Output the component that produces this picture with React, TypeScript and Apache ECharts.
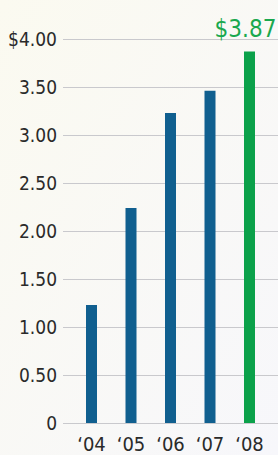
import React, { useEffect, useRef } from "react";
import * as echarts from "echarts";

const categories = ["‘04", "‘05", "‘06", "‘07", "‘08"];
const values = [1.23, 2.24, 3.23, 3.46, 3.87];
const highlightIndex = 4;
const yMin = 0;
const yMax = 4;
const yInterval = 0.5;

const FONT = "'Liberation Sans Narrow', 'DejaVu Sans Condensed', 'Roboto Condensed', sans-serif";

export default function App() {
  const ref = useRef<HTMLDivElement>(null);
  useEffect(() => {
    if (!ref.current) return;
    const chart = echarts.init(ref.current, null, { renderer: "svg" });
    const top = 39;
    const bottom = 32;
    chart.setOption({
      animation: false,
      backgroundColor: {
        type: "linear",
        x: 0,
        y: 0,
        x2: 1,
        y2: 1,
        colorStops: [
          { offset: 0, color: "#fbfaf0" },
          { offset: 1, color: "#f7f7fb" },
        ],
      },
      grid: [
        { left: 63, right: 0, top, bottom, containLabel: false },
        { left: 71.75, right: 8.75, top, bottom, containLabel: false },
      ],
      xAxis: [
        { type: "value", gridIndex: 0, show: false, min: 0, max: 1 },
        {
          type: "category",
          gridIndex: 1,
          data: categories,
          axisLine: { show: false },
          axisTick: { show: false },
          axisLabel: {
            color: "#2a2a2a",
            fontFamily: FONT,
            fontSize: 20,
            margin: 11,
          },
        },
      ],
      yAxis: [
        {
          type: "value",
          gridIndex: 0,
          min: yMin,
          max: yMax,
          interval: yInterval,
          axisLine: { show: false },
          axisTick: { show: false },
          splitLine: { lineStyle: { color: "#c9c9cd", width: 1 } },
          axisLabel: {
            color: "#2a2a2a",
            fontFamily: FONT,
            fontSize: 19,
            margin: 6,
            formatter: (v: number) =>
              v === yMax ? "$" + v.toFixed(2) : v === 0 ? "0" : v.toFixed(2),
          },
        },
        {
          type: "value",
          gridIndex: 1,
          min: yMin,
          max: yMax,
          interval: yInterval,
          show: false,
          splitLine: { show: false },
        },
      ],
      series: [
        {
          type: "bar",
          xAxisIndex: 1,
          yAxisIndex: 1,
          barWidth: 11,
          data: values.map((v, i) => ({
            value: v,
            itemStyle: { color: i === highlightIndex ? "#0ba14a" : "#105f8f" },
            label:
              i === highlightIndex
                ? {
                    show: true,
                    position: "top",
                    distance: 10,
                    offset: [-4, 0],
                    formatter: "$" + v.toFixed(2),
                    color: "#1aa84e",
                    fontFamily: FONT,
                    fontSize: 24,
                  }
                : { show: false },
          })),
        },
      ],
    });
    return () => chart.dispose();
  }, []);
  return (
    <div
      ref={ref}
      style={{ position: "absolute", left: 0, top: 0, width: 278, height: 455 }}
    />
  );
}
